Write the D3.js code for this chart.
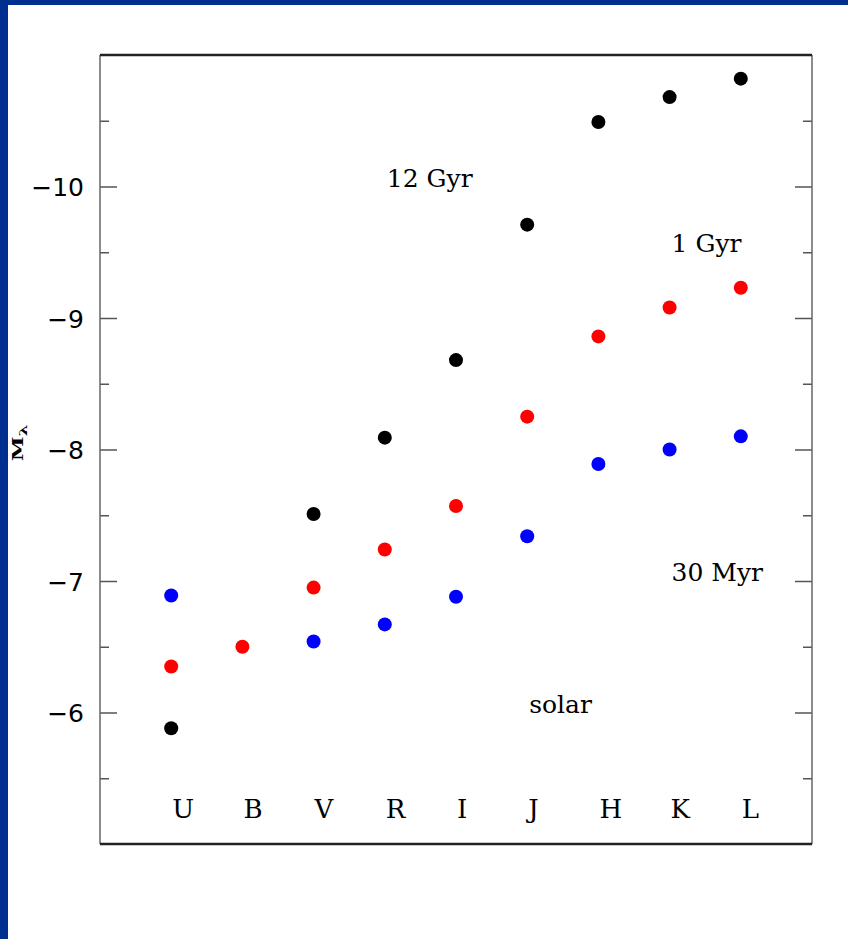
<!DOCTYPE html>
<html>
<head>
<meta charset="utf-8">
<script src="https://cdn.jsdelivr.net/npm/d3@7"></script>
<style>
  html, body { margin: 0; padding: 0; background: #ffffff; }
  svg { display: block; }
</style>
</head>
<body>
<script>
// Photometric bands along the x axis
const bands = ["U", "B", "V", "R", "I", "J", "H", "K", "L"];

// Absolute magnitudes per band for each population (null = not plotted)
const mag12Gyr = [-5.88, null, -7.51, -8.09, -8.68, -9.71, -10.49, -10.68, -10.82];
const mag1Gyr  = [-6.35, -6.50, -6.95, -7.24, -7.57, -8.25, -8.86, -9.08, -9.23];
const mag30Myr = [-6.89, null, -6.54, -6.67, -6.88, -7.34, -7.89, -8.00, -8.10];

// Y axis ticks
const majorTicks = [-10, -9, -8, -7, -6];
const minorTicks = [-10.5, -9.5, -8.5, -7.5, -6.5, -5.5];

// Text annotations: label, band index, magnitude at baseline
const annotations = [
  { text: "12 Gyr", band: 3, mag: -10.0 },
  { text: "1 Gyr",  band: 7, mag: -9.5 },
  { text: "30 Myr", band: 7, mag: -7.0 },
  { text: "solar",  band: 5, mag: -6.0 }
];

const W = 848, H = 939;
const box = { left: 100, right: 812, top: 55, bottom: 844 };

const svg = d3.select("body").append("svg")
  .attr("width", W).attr("height", H);

// page background with blue frame strips
svg.append("rect").attr("width", W).attr("height", H).attr("fill", "#ffffff");
svg.append("rect").attr("x", 0).attr("y", 0).attr("width", W).attr("height", 5).attr("fill", "#00308f");
svg.append("rect").attr("x", 0).attr("y", 0).attr("width", 8).attr("height", H).attr("fill", "#00308f");

const x = d3.scaleLinear().domain([0, bands.length + 1]).range([box.left, box.right]);
const y = d3.scaleLinear().domain([-5, -11]).range([box.bottom, box.top]);

// left axis: inward ticks, labels outside
const leftAxis = d3.axisLeft(y)
  .tickValues(majorTicks)
  .tickSizeInner(-17).tickSizeOuter(0)
  .tickPadding(16)
  .tickFormat(d => "\u2212" + Math.abs(d));
const gl = svg.append("g").attr("transform", `translate(${box.left},0)`).call(leftAxis);
gl.select(".domain").remove();
gl.selectAll(".tick line").attr("stroke", "#555").attr("stroke-width", 1.5);
gl.selectAll(".tick text")
  .attr("font-family", "'DejaVu Sans', sans-serif")
  .attr("font-size", 25).attr("fill", "#000")
  .attr("dy", "0.36em");

const gLm = svg.append("g").attr("transform", `translate(${box.left},0)`)
  .call(d3.axisLeft(y).tickValues(minorTicks).tickSizeInner(-9).tickSizeOuter(0).tickFormat(""));
gLm.select(".domain").remove();
gLm.selectAll(".tick line").attr("stroke", "#555").attr("stroke-width", 1.5);

// right axis: inward ticks, no labels
const gr = svg.append("g").attr("transform", `translate(${box.right},0)`)
  .call(d3.axisRight(y).tickValues(majorTicks).tickSizeInner(-17).tickSizeOuter(0).tickFormat(""));
gr.select(".domain").remove();
gr.selectAll(".tick line").attr("stroke", "#555").attr("stroke-width", 1.5);
const grm = svg.append("g").attr("transform", `translate(${box.right},0)`)
  .call(d3.axisRight(y).tickValues(minorTicks).tickSizeInner(-9).tickSizeOuter(0).tickFormat(""));
grm.select(".domain").remove();
grm.selectAll(".tick line").attr("stroke", "#555").attr("stroke-width", 1.5);

// plot frame
svg.append("line").attr("x1", box.left).attr("x2", box.left).attr("y1", box.top).attr("y2", box.bottom)
  .attr("stroke", "#666").attr("stroke-width", 1.5);
svg.append("line").attr("x1", box.right).attr("x2", box.right).attr("y1", box.top).attr("y2", box.bottom)
  .attr("stroke", "#666").attr("stroke-width", 1.5);
svg.append("line").attr("x1", box.left).attr("x2", box.right).attr("y1", box.top).attr("y2", box.top)
  .attr("stroke", "#222").attr("stroke-width", 2.5);
svg.append("line").attr("x1", box.left).attr("x2", box.right).attr("y1", box.bottom).attr("y2", box.bottom)
  .attr("stroke", "#222").attr("stroke-width", 2.5);

// band names inside the frame
svg.append("g").selectAll("text").data(bands).join("text")
  .attr("x", (d, i) => x(i + 1) + 1)
  .attr("y", 818)
  .attr("font-family", "'DejaVu Serif', serif")
  .attr("font-size", 26)
  .attr("fill", "#000")
  .text(d => d);

// y axis title M_lambda, rotated
const yt = svg.append("text")
  .attr("transform", `translate(23,${443}) rotate(-90) scale(1.5,1)`)
  .attr("text-anchor", "middle")
  .attr("font-family", "'DejaVu Serif', serif")
  .attr("font-size", 15)
  .attr("font-weight", "bold")
  .attr("fill", "#000");
yt.append("tspan").text("M");
yt.append("tspan").attr("font-size", 11).attr("dy", 4).text("\u03bb");

// data points
const series = [
  { values: mag12Gyr, color: "#000000" },
  { values: mag1Gyr,  color: "#ff0000" },
  { values: mag30Myr, color: "#0000ff" }
];
series.forEach(s => {
  const pts = s.values.map((v, i) => ({ i, v })).filter(d => d.v !== null);
  svg.append("g").selectAll("circle").data(pts).join("circle")
    .attr("cx", d => x(d.i + 1))
    .attr("cy", d => y(d.v))
    .attr("r", 7)
    .attr("fill", s.color);
});

// annotations
svg.append("g").selectAll("text").data(annotations).join("text")
  .attr("x", d => x(d.band + 1) + 2)
  .attr("y", d => y(d.mag))
  .attr("font-family", "'DejaVu Serif', serif")
  .attr("font-size", 25)
  .attr("fill", "#000")
  .text(d => d.text);
</script>
</body>
</html>
